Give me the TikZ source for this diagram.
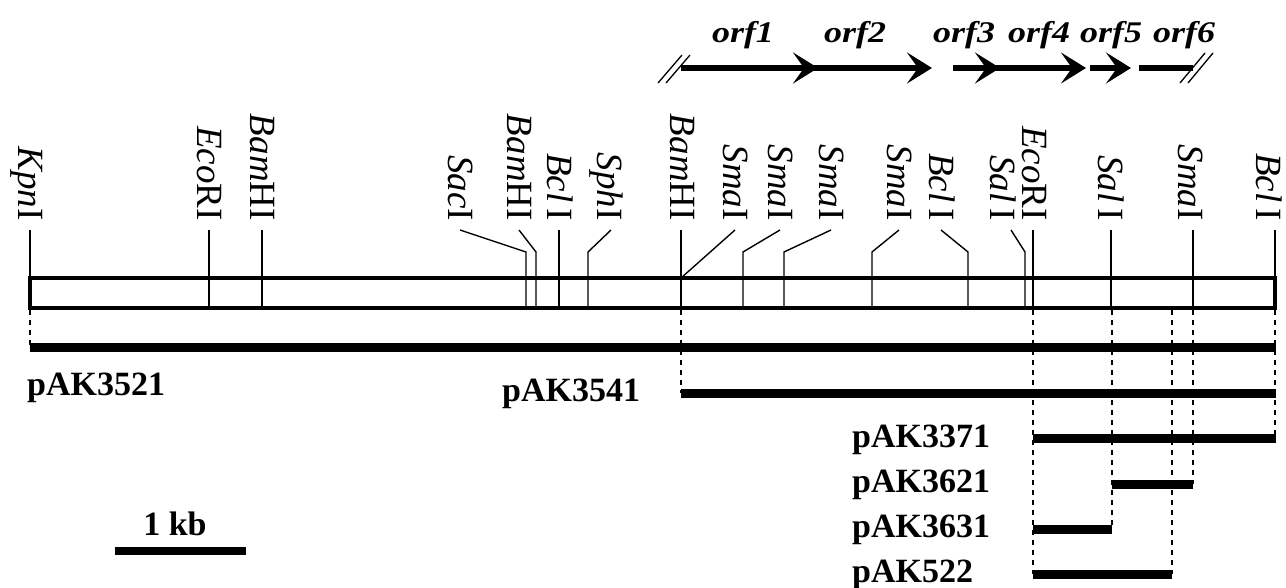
\documentclass[tikz,border=0pt]{standalone}
\usepackage{fontspec}
\usepackage{graphicx}
\setmainfont{Liberation Serif}
\usetikzlibrary{arrows.meta}

\begin{document}
\begin{tikzpicture}[x=1pt,y=-1pt,
  site/.style={line width=1.4pt},
  sitelabel/.style={rotate=-90, anchor=base east, inner sep=0pt,
    font=\fontsize{37}{40}\selectfont},
  mapbox/.style={line width=4.5pt},
  clone/.style={line width=9pt},
  guide/.style={line width=1.3pt, dash pattern=on 5pt off 5pt},
  clonelabel/.style={anchor=base west, inner sep=0pt,
    font=\fontsize{34}{38}\selectfont\bfseries},
  orfline/.style={line width=6pt},
  orftip/.style={-{Stealth[length=25pt,width=31pt,inset=11pt]}},
  orflabel/.style={anchor=base, inner sep=0pt,
    font=\fontsize{30}{33}\selectfont\bfseries\itshape},
  breakmark/.style={line width=1.3pt}
]
\useasboundingbox (0,0) rectangle (1286,588);

% restriction map
\draw[mapbox] (30,278) rectangle (1275,308);

% sites drawn straight up from the map
\foreach \sx in {30,209,262,559,681,1033,1111,1193,1275}
  \draw[site] (\sx,230) -- (\sx,308);

% sites with bent leaders: label end x / site x
\foreach \lx/\sx in {460/526,519/536,611/588,780/743,831/784,899/872,941/968,1011/1025}
  \draw[site] (\lx,230) -- (\sx,252) -- (\sx,308);
\draw[site] (735,230) -- (681,278);

% site names
\foreach \bx/\txt [count=\i] in {
   19/{\textit{Kpn}I},
   197/{\textit{Eco}RI},
   250/{\textit{Bam}HI},
   448/{\textit{Sac}I},
   507/{\textit{Bam}HI},
   547/{\textit{Bcl}\,I},
   597/{\textit{Sph}I},
   670/{\textit{Bam}HI},
   723/{\textit{Sma}I},
   768/{\textit{Sma}I},
   819/{\textit{Sma}I},
   887/{\textit{Sma}I},
   929/{\textit{Bcl}\,I},
   990/{\textit{Sal}\,I},
   1022/{\textit{Eco}RI},
   1098/{\textit{Sal}\,I},
   1178/{\textit{Sma}I},
   1256/{\textit{Bcl}\,I}}
  \node[sitelabel] (site\i) at (\bx,221) {\txt};

% open reading frames
\draw[orfline,orftip] (681,68) -- (818,68);
\draw[orfline,orftip] (806,68) -- (932,68);
\draw[orfline,orftip] (953,68) -- (1000,68);
\draw[orfline,orftip] (990,68) -- (1086,68);
\draw[orfline,orftip] (1090,68) -- (1131,68);
\draw[orfline] (1139,68) -- (1193,68);

\draw[breakmark] (658,83) -- (682,55);
\draw[breakmark] (666,83) -- (690,55);
\draw[breakmark] (1180,83) -- (1205,53);
\draw[breakmark] (1188,83) -- (1213,53);

\foreach \ox/\txt [count=\i] in {743/orf1,855/orf2,964/orf3,1039/orf4,1111/orf5,1184/orf6}
  \node[orflabel] (orf\i) at (\ox,43) {\scalebox{1.2}[1]{\txt}};

% guide lines from the map to the clones
\foreach \gx/\gy in {30/347,681/393,1033/574,1112/529,1172/574,1193/484,1275/438}
  \draw[guide] (\gx,310) -- (\gx,\gy);

% cloned fragments
\draw[clone] (30,347.5) -- (1276,347.5);
\draw[clone] (681,393) -- (1276,393);
\draw[clone] (1033,438.5) -- (1276,438.5);
\draw[clone] (1112,484) -- (1193,484);
\draw[clone] (1033,529) -- (1112,529);
\draw[clone] (1033,574.5) -- (1172,574.5);

\node[clonelabel] (c3521) at (27,395) {pAK3521};
\node[clonelabel] (c3541) at (502,401) {pAK3541};
\node[clonelabel] (c3371) at (852,447) {pAK3371};
\node[clonelabel] (c3621) at (852,492) {pAK3621};
\node[clonelabel] (c3631) at (852,537) {pAK3631};
\node[clonelabel] (c522) at (852,582) {pAK522};

% scale bar
\draw[line width=8pt] (115,551) -- (246,551);
\node[clonelabel, anchor=base] (kb) at (175,535) {1 kb};
\end{tikzpicture}
\end{document}
